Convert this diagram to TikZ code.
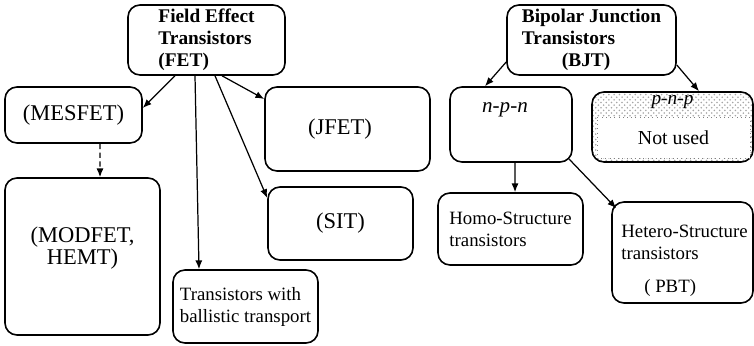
\documentclass[tikz,border=0pt]{standalone}
\usepackage{fontspec}
\setmainfont{Liberation Serif}
\usetikzlibrary{arrows.meta,patterns}

\tikzset{
  box/.style={draw, line width=0.9pt, rounded corners=0.24cm, inner sep=0pt},
  arr/.style={-{Latex[length=5pt,width=4pt]}, line width=0.7pt},
  head/.style={font=\bfseries\fontsize{11}{12.5}\selectfont, align=left},
  lbl/.style={font=\fontsize{12.8}{12.8}\selectfont, align=center},
  txt/.style={font=\fontsize{10.7}{12.5}\selectfont, align=left}
}

\begin{document}
\begin{tikzpicture}
\useasboundingbox (0,0) rectangle (15.08,6.9);

% field effect side
\node[box, head, minimum width=3.14cm, minimum height=1.4cm] (fet) at (4.13,6.10) {Field Effect\\Transistors\\(FET)};
\node[box, lbl, minimum width=2.74cm, minimum height=1.12cm] (mesfet) at (1.47,4.60) {(MESFET)};
\node[box, lbl, minimum width=3.3cm, minimum height=1.68cm] (jfet) at (6.95,4.32) {\hspace*{-0.3cm}(JFET)};
\node[box, lbl, minimum width=2.9cm, minimum height=1.46cm] (sit) at (6.81,2.43) {(SIT)};
\node[box, minimum width=3.1cm, minimum height=3.14cm] (modfet) at (1.65,1.77) {};
\node[lbl, font=\fontsize{12.8}{11.5}\selectfont] (modtxt) at ([yshift=0.17cm]modfet.center) {(MODFET,\\HEMT)};
\node[box, txt, minimum width=2.9cm, minimum height=1.46cm] (ballistic) at (4.91,0.77) {Transistors with\\ballistic transport};

\draw[arr] ([xshift=-0.63cm]fet.south) -- ([yshift=0.14cm]mesfet.east);
\draw[arr] ([xshift=-0.23cm]fet.south) -- ([xshift=-0.93cm]ballistic.north);
\draw[arr] ([xshift=0.17cm]fet.south) -- ([yshift=0.51cm]sit.west);
\draw[arr] ([xshift=0.31cm]fet.south) -- ([yshift=0.6cm]jfet.west);
\draw[arr, densely dashed] ([xshift=0.53cm]mesfet.south) -- ([xshift=0.35cm]modfet.north);

% bipolar side
\node[box, head, minimum width=3.38cm, minimum height=1.4cm] (bjt) at (11.83,6.10) {Bipolar Junction\\Transistors\\\hspace*{0.8cm}(BJT)};
\node[box, minimum width=2.44cm, minimum height=1.5cm] (npn) at (10.22,4.41) {};
\node[font=\itshape\fontsize{12}{12}\selectfont] (npntxt) at (10.10,4.70) {n-p-n};
\node[box, pattern=crosshatch dots, pattern color=gray!70, minimum width=3.22cm, minimum height=1.4cm] (pnp) at (13.45,4.36) {};
\node[fill=white, draw=gray, dotted, inner sep=0pt, minimum width=3.06cm, minimum height=0.82cm, font=\fontsize{11.3}{12}\selectfont] (pnpin) at (13.47,4.15) {Not used};
\node[font=\itshape\fontsize{11}{11}\selectfont, inner sep=1pt] (pnptxt) at (13.45,4.86) {p-n-p};
\node[box, txt, minimum width=2.9cm, minimum height=1.44cm] (homo) at (10.21,2.32) {Homo-Structure\\transistors};
\node[box, minimum width=2.82cm, minimum height=2.02cm] (hetero) at (13.65,1.85) {};
\node[txt] (hettxt) at ([xshift=0.04cm,yshift=-0.16cm]hetero.center) {Hetero-Structure\\transistors\\[0.22cm]\hspace*{0.46cm}( PBT)};

\draw[arr] ([yshift=-0.44cm]bjt.west) -- ([xshift=-0.52cm]npn.north);
\draw[arr] ([yshift=-0.5cm]bjt.east) -- ([xshift=0.53cm]pnp.north);
\draw[arr] ([xshift=0.08cm]npn.south) -- ([xshift=0.09cm]homo.north);
\draw[arr] ([xshift=-0.07cm,yshift=0.07cm]npn.south east) -- ([xshift=0.1cm,yshift=-0.14cm]hetero.north west);
\end{tikzpicture}
\end{document}
